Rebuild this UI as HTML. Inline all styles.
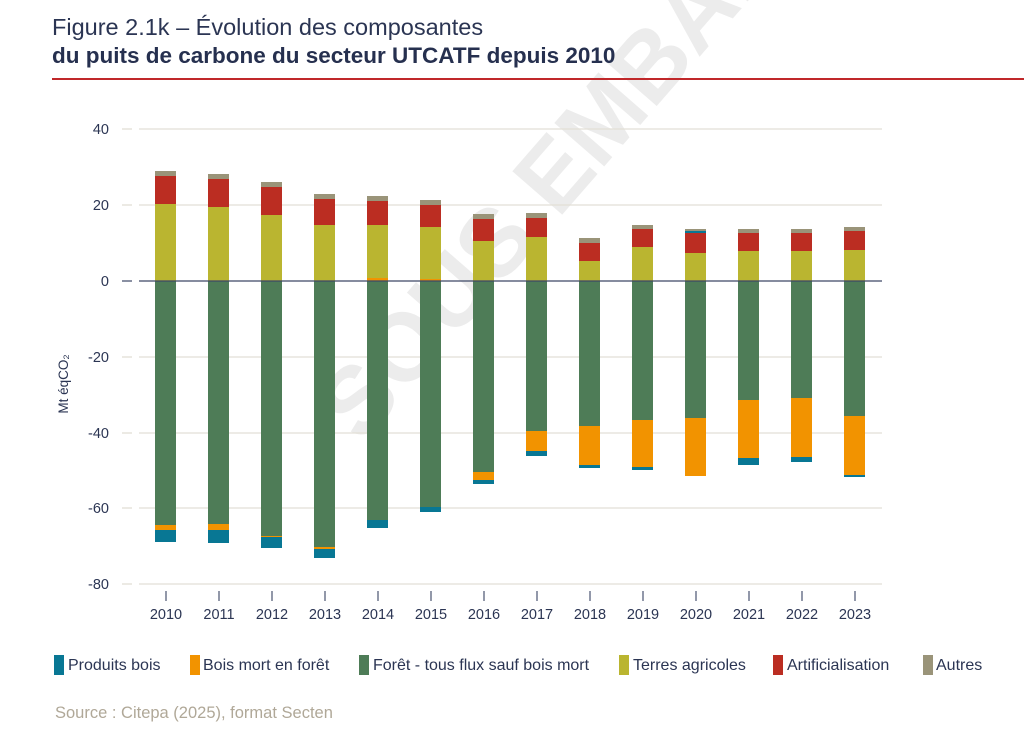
<!DOCTYPE html>
<html><head><meta charset="utf-8"><style>
html,body{margin:0;padding:0;background:#fff;}
svg{display:block;}
text{font-family:"Liberation Sans",sans-serif;}
</style></head><body>
<svg width="1024" height="731" viewBox="0 0 1024 731" xmlns="http://www.w3.org/2000/svg">
<rect width="1024" height="731" fill="#fff"/>
<!-- watermark -->
<text x="362" y="445" font-size="96" font-weight="bold" fill="#ececec" transform="rotate(-49 362 445)">SOUS EMBARGO</text>
<text x="52" y="35" font-size="23.5" fill="#2b3553">Figure 2.1k – Évolution des composantes</text>
<text x="52" y="63" font-size="22.5" font-weight="bold" fill="#26304f">du puits de carbone du secteur UTCATF depuis 2010</text>
<rect x="52" y="78" width="972" height="2" fill="#c0282a"/>
<!-- gridlines -->
<g stroke="#e2dfd6" stroke-width="1.3">
<line x1="122" y1="129" x2="132" y2="129"/><line x1="139" y1="129" x2="882" y2="129"/>
<line x1="122" y1="205" x2="132" y2="205"/><line x1="139" y1="205" x2="882" y2="205"/>
<line x1="122" y1="357" x2="132" y2="357"/><line x1="139" y1="357" x2="882" y2="357"/>
<line x1="122" y1="433" x2="132" y2="433"/><line x1="139" y1="433" x2="882" y2="433"/>
<line x1="122" y1="508" x2="132" y2="508"/><line x1="139" y1="508" x2="882" y2="508"/>
<line x1="122" y1="584" x2="132" y2="584"/><line x1="139" y1="584" x2="882" y2="584"/>
</g>
<g font-size="14.5" fill="#2b3553" text-anchor="end">
<text x="109" y="134">40</text><text x="109" y="210">20</text><text x="109" y="286">0</text>
<text x="109" y="362">-20</text><text x="109" y="438">-40</text><text x="109" y="513">-60</text><text x="109" y="589">-80</text>
</g>
<text x="68" y="384" font-size="13.5" fill="#2b3553" text-anchor="middle" transform="rotate(-90 68 384)">Mt éqCO₂</text>
<!-- bars -->
<g>
<rect x="155" y="171" width="21" height="5" fill="#9a9479"/><rect x="155" y="176" width="21" height="28" fill="#bb2d22"/><rect x="155" y="204" width="21" height="77" fill="#bab530"/><rect x="155" y="281" width="21" height="244" fill="#4e7c57"/><rect x="155" y="525" width="21" height="5" fill="#f29300"/><rect x="155" y="530" width="21" height="12" fill="#087794"/>
<rect x="208" y="174" width="21" height="5" fill="#9a9479"/><rect x="208" y="179" width="21" height="28" fill="#bb2d22"/><rect x="208" y="207" width="21" height="74" fill="#bab530"/><rect x="208" y="281" width="21" height="243" fill="#4e7c57"/><rect x="208" y="524" width="21" height="6" fill="#f29300"/><rect x="208" y="530" width="21" height="13" fill="#087794"/>
<rect x="261" y="182" width="21" height="5" fill="#9a9479"/><rect x="261" y="187" width="21" height="28" fill="#bb2d22"/><rect x="261" y="215" width="21" height="66" fill="#bab530"/><rect x="261" y="281" width="21" height="255" fill="#4e7c57"/><rect x="261" y="536" width="21" height="1" fill="#f29300"/><rect x="261" y="537" width="21" height="11" fill="#087794"/>
<rect x="314" y="194" width="21" height="5" fill="#9a9479"/><rect x="314" y="199" width="21" height="26" fill="#bb2d22"/><rect x="314" y="225" width="21" height="56" fill="#bab530"/><rect x="314" y="281" width="21" height="266" fill="#4e7c57"/><rect x="314" y="547" width="21" height="2" fill="#f29300"/><rect x="314" y="549" width="21" height="9" fill="#087794"/>
<rect x="367" y="196" width="21" height="5" fill="#9a9479"/><rect x="367" y="201" width="21" height="24" fill="#bb2d22"/><rect x="367" y="225" width="21" height="53" fill="#bab530"/><rect x="367" y="278" width="21" height="3" fill="#f29300"/><rect x="367" y="281" width="21" height="239" fill="#4e7c57"/><rect x="367" y="520" width="21" height="8" fill="#087794"/>
<rect x="420" y="200" width="21" height="5" fill="#9a9479"/><rect x="420" y="205" width="21" height="22" fill="#bb2d22"/><rect x="420" y="227" width="21" height="52" fill="#bab530"/><rect x="420" y="279" width="21" height="2" fill="#f29300"/><rect x="420" y="281" width="21" height="226" fill="#4e7c57"/><rect x="420" y="507" width="21" height="5" fill="#087794"/>
<rect x="473" y="214" width="21" height="5" fill="#9a9479"/><rect x="473" y="219" width="21" height="22" fill="#bb2d22"/><rect x="473" y="241" width="21" height="40" fill="#bab530"/><rect x="473" y="281" width="21" height="191" fill="#4e7c57"/><rect x="473" y="472" width="21" height="8" fill="#f29300"/><rect x="473" y="480" width="21" height="4" fill="#087794"/>
<rect x="526" y="213" width="21" height="5" fill="#9a9479"/><rect x="526" y="218" width="21" height="19" fill="#bb2d22"/><rect x="526" y="237" width="21" height="44" fill="#bab530"/><rect x="526" y="281" width="21" height="150" fill="#4e7c57"/><rect x="526" y="431" width="21" height="20" fill="#f29300"/><rect x="526" y="451" width="21" height="5" fill="#087794"/>
<rect x="579" y="238" width="21" height="5" fill="#9a9479"/><rect x="579" y="243" width="21" height="18" fill="#bb2d22"/><rect x="579" y="261" width="21" height="20" fill="#bab530"/><rect x="579" y="281" width="21" height="145" fill="#4e7c57"/><rect x="579" y="426" width="21" height="39" fill="#f29300"/><rect x="579" y="465" width="21" height="3" fill="#087794"/>
<rect x="632" y="225" width="21" height="4" fill="#9a9479"/><rect x="632" y="229" width="21" height="18" fill="#bb2d22"/><rect x="632" y="247" width="21" height="34" fill="#bab530"/><rect x="632" y="281" width="21" height="139" fill="#4e7c57"/><rect x="632" y="420" width="21" height="47" fill="#f29300"/><rect x="632" y="467" width="21" height="3" fill="#087794"/>
<rect x="685" y="229" width="21" height="2" fill="#9a9479"/><rect x="685" y="231" width="21" height="2" fill="#087794"/><rect x="685" y="233" width="21" height="20" fill="#bb2d22"/><rect x="685" y="253" width="21" height="28" fill="#bab530"/><rect x="685" y="281" width="21" height="137" fill="#4e7c57"/><rect x="685" y="418" width="21" height="58" fill="#f29300"/>
<rect x="738" y="229" width="21" height="4" fill="#9a9479"/><rect x="738" y="233" width="21" height="18" fill="#bb2d22"/><rect x="738" y="251" width="21" height="30" fill="#bab530"/><rect x="738" y="281" width="21" height="119" fill="#4e7c57"/><rect x="738" y="400" width="21" height="58" fill="#f29300"/><rect x="738" y="458" width="21" height="7" fill="#087794"/>
<rect x="791" y="229" width="21" height="4" fill="#9a9479"/><rect x="791" y="233" width="21" height="18" fill="#bb2d22"/><rect x="791" y="251" width="21" height="30" fill="#bab530"/><rect x="791" y="281" width="21" height="117" fill="#4e7c57"/><rect x="791" y="398" width="21" height="59" fill="#f29300"/><rect x="791" y="457" width="21" height="5" fill="#087794"/>
<rect x="844" y="227" width="21" height="4" fill="#9a9479"/><rect x="844" y="231" width="21" height="19" fill="#bb2d22"/><rect x="844" y="250" width="21" height="31" fill="#bab530"/><rect x="844" y="281" width="21" height="135" fill="#4e7c57"/><rect x="844" y="416" width="21" height="59" fill="#f29300"/><rect x="844" y="475" width="21" height="2" fill="#087794"/>
</g>
<line x1="122" y1="281" x2="132" y2="281" stroke="#3d4766" stroke-width="1.2"/>
<line x1="139" y1="281" x2="882" y2="281" stroke="#3d4766" stroke-width="1.2"/>
<g stroke="#4a5470" stroke-width="1.2">
<line x1="166" y1="591" x2="166" y2="601"/><line x1="219" y1="591" x2="219" y2="601"/><line x1="272" y1="591" x2="272" y2="601"/><line x1="325" y1="591" x2="325" y2="601"/><line x1="378" y1="591" x2="378" y2="601"/><line x1="431" y1="591" x2="431" y2="601"/><line x1="484" y1="591" x2="484" y2="601"/><line x1="537" y1="591" x2="537" y2="601"/><line x1="590" y1="591" x2="590" y2="601"/><line x1="643" y1="591" x2="643" y2="601"/><line x1="696" y1="591" x2="696" y2="601"/><line x1="749" y1="591" x2="749" y2="601"/><line x1="802" y1="591" x2="802" y2="601"/><line x1="855" y1="591" x2="855" y2="601"/>
</g>
<g font-size="14.5" fill="#2b3553" text-anchor="middle">
<text x="166" y="619">2010</text><text x="219" y="619">2011</text><text x="272" y="619">2012</text><text x="325" y="619">2013</text><text x="378" y="619">2014</text><text x="431" y="619">2015</text><text x="484" y="619">2016</text><text x="537" y="619">2017</text><text x="590" y="619">2018</text><text x="643" y="619">2019</text><text x="696" y="619">2020</text><text x="749" y="619">2021</text><text x="802" y="619">2022</text><text x="855" y="619">2023</text>
</g>
<g font-size="16" fill="#2b3553">
<rect x="54" y="655" width="10" height="20" fill="#087794"/><text x="68" y="670">Produits bois</text>
<rect x="190" y="655" width="10" height="20" fill="#f29300"/><text x="203" y="670">Bois mort en forêt</text>
<rect x="359" y="655" width="10" height="20" fill="#4e7c57"/><text x="373" y="670">Forêt - tous flux sauf bois mort</text>
<rect x="619" y="655" width="10" height="20" fill="#bab530"/><text x="633" y="670">Terres agricoles</text>
<rect x="773" y="655" width="10" height="20" fill="#bb2d22"/><text x="787" y="670">Artificialisation</text>
<rect x="923" y="655" width="10" height="20" fill="#9a9479"/><text x="936" y="670">Autres</text>
</g>
<text x="55" y="718" font-size="16.5" fill="#b0a898">Source : Citepa (2025), format Secten</text>
</svg>
</body></html>
